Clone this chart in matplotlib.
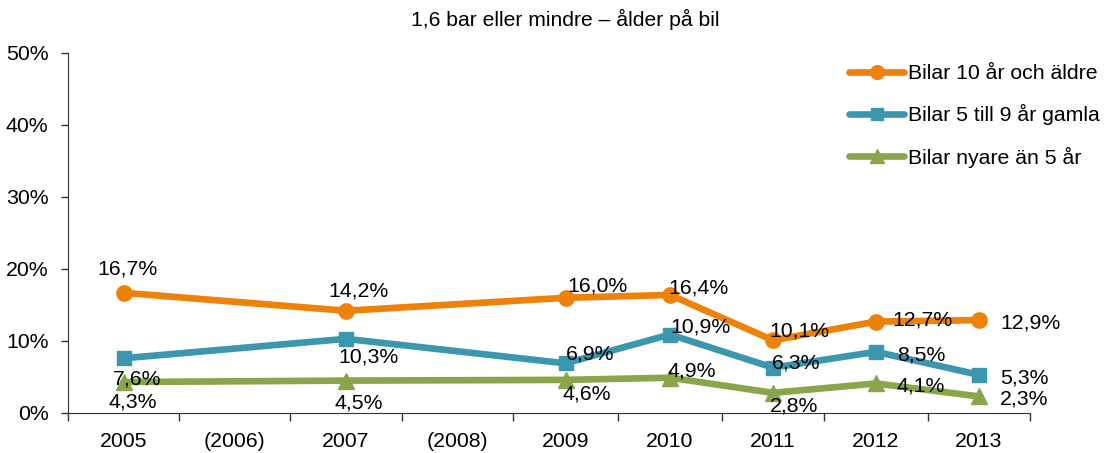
import numpy as np
import matplotlib
matplotlib.use('Agg')
import matplotlib.pyplot as plt

plt.rcParams['font.family'] = ['Liberation Sans', 'DejaVu Sans']

# data
kategorier = ['2005', '(2006)', '2007', '(2008)', '2009', '2010', '2011', '2012', '2013']
aldre_10 = [16.7, None, 14.2, None, 16.0, 16.4, 10.1, 12.7, 12.9]
mellan_5_9 = [7.6, None, 10.3, None, 6.9, 10.9, 6.3, 8.5, 5.3]
nyare_5 = [4.3, None, 4.5, None, 4.6, 4.9, 2.8, 4.1, 2.3]
namn = ['Bilar 10 år och äldre', 'Bilar 5 till 9 år gamla', 'Bilar nyare än 5 år']

# stil
farger = ['#EE8209', '#3A97AD', '#8BA64A']
markorer = ['o', 's', '^']
msize = [11, 10, 11]
# kategorierna är inte lika breda i originalet (relativa kantpositioner)
kanter = [0, 111, 222, 334, 445, 550, 654, 756, 860, 962]
# etikettförskjutning i pixlar (dx, dy)
offs = [
    [(4, 24), None, (12, 20), None, (32, 12), (29, 7), (26, 9), (46, 2), (52, -3)],
    [(14, -21), None, (22, -18), None, (25, 9), (30, 8), (23, 5), (45, -3), (45, -3)],
    [(9, -20), None, (13, -22), None, (21, -14), (22, 7), (21, -13), (45, -3), (45, -3)],
]

idx_kanter = np.arange(-0.5, len(kategorier), 1)
fwd = lambda x: np.interp(x, idx_kanter, kanter)
inv = lambda p: np.interp(p, kanter, idx_kanter)

fig = plt.figure(figsize=(11.04, 4.53), dpi=100)
ax = fig.add_axes([68/1104, 40/453, (1030-68)/1104, (413-53)/453])
ax.set_xscale('function', functions=(fwd, inv))

for serie, lab, c, m, ms, off in zip([aldre_10, mellan_5_9, nyare_5], namn, farger, markorer, msize, offs):
    xs = [i for i, v in enumerate(serie) if v is not None]
    ys = [v for v in serie if v is not None]
    ax.plot(xs, ys, color=c, lw=4.8, marker=m, markersize=ms, label=lab, solid_capstyle='round')
    for x, y in zip(xs, ys):
        dx, dy = off[x]
        ax.annotate(f'{y:.1f}%'.replace('.', ','), (x, y), xytext=(dx, dy), textcoords='offset pixels',
                    ha='center', va='center', fontsize=15.3, color='black')

ax.set_xlim(-0.5, len(kategorier) - 0.5)
ax.set_ylim(0, 50)
ax.set_yticks(np.arange(0, 51, 10))
ax.set_yticklabels([f'{v}%' for v in range(0, 51, 10)])
ax.set_xticks(idx_kanter)
ax.set_xticklabels([])
ax.set_xticks(np.arange(len(kategorier)), minor=True)
ax.set_xticklabels(kategorier, minor=True)
ax.tick_params(axis='x', which='major', direction='out', length=6, width=1, color='#333333')
ax.tick_params(axis='x', which='minor', length=0, pad=14, labelsize=15.3)
ax.tick_params(axis='y', direction='out', length=5, width=1, color='#333333', pad=9, labelsize=15.3)
for s in ['top', 'right']:
    ax.spines[s].set_visible(False)
for s in ['left', 'bottom']:
    ax.spines[s].set_color('#333333')

fig.text(565/1104, 1 - 19/453, '1,6 bar eller mindre – ålder på bil', ha='center', va='center', fontsize=15.2)

fig.legend(loc='upper left', bbox_to_anchor=(849/1104, 1 - 64/453), bbox_transform=fig.transFigure,
           frameon=False, fontsize=15.3, handlelength=2.6, handletextpad=0.2, labelspacing=1.0,
           borderpad=0, borderaxespad=0, numpoints=1, markerscale=0.9)

plt.savefig('out.png', dpi=100)
